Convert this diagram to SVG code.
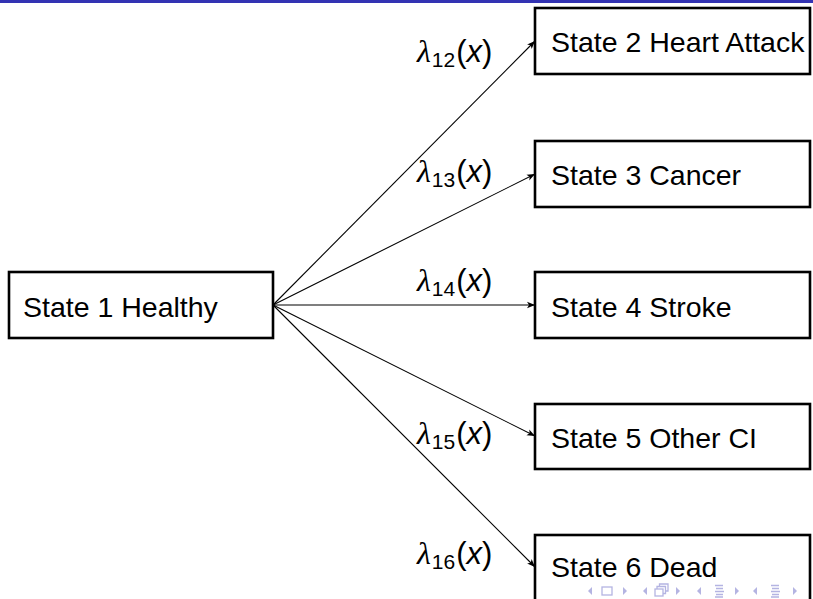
<svg xmlns="http://www.w3.org/2000/svg" width="813" height="599" viewBox="0 0 813 599">
  <defs>
    <style>
      .box { fill: #ffffff; stroke: #000000; stroke-width: 2.6; }
      .txt { font-family: "Liberation Sans", Arial, sans-serif; font-size: 28.5px; fill: #000000; }
      .lbl { font-family: "Liberation Sans", Arial, sans-serif; font-size: 31px; fill: #000000; }
      .lam { font-family: "Liberation Serif", "DejaVu Serif", serif; font-style: italic; font-size: 32px; }
      .sub { font-size: 21px; }
      .ix { font-style: italic; }
      .edge { fill: none; stroke: #000000; stroke-width: 1.1; marker-end: url(#arr); }
      .nav { fill: none; stroke: #b4b4e2; stroke-width: 1.3; }
      .navf { fill: #b4b4e2; stroke: none; }
    </style>
    <marker id="arr" viewBox="0 0 10 10" refX="10" refY="5" markerWidth="8" markerHeight="8" markerUnits="userSpaceOnUse" orient="auto">
      <path d="M0,1 L10,5 L0,9 L2.5,5 Z" fill="#000000"/>
    </marker>
  </defs>

  <rect x="0" y="0" width="813" height="3" fill="#3333b3"/>

  <g id="connectors">
    <line class="edge" x1="273" y1="305" x2="535" y2="41"/>
    <line class="edge" x1="273" y1="305" x2="535" y2="174"/>
    <line class="edge" x1="273" y1="305" x2="535" y2="305"/>
    <line class="edge" x1="273" y1="305" x2="535" y2="436"/>
    <line class="edge" x1="273" y1="305" x2="535" y2="567"/>
  </g>

  <g id="labels">
    <text class="lbl" x="417" y="62"><tspan class="lam">λ</tspan><tspan class="sub" dy="5" dx="1">12</tspan><tspan dy="-5" dx="1">(</tspan><tspan class="ix">x</tspan>)</text>
    <text class="lbl" x="417" y="182"><tspan class="lam">λ</tspan><tspan class="sub" dy="5" dx="1">13</tspan><tspan dy="-5" dx="1">(</tspan><tspan class="ix">x</tspan>)</text>
    <text class="lbl" x="417" y="291"><tspan class="lam">λ</tspan><tspan class="sub" dy="5" dx="1">14</tspan><tspan dy="-5" dx="1">(</tspan><tspan class="ix">x</tspan>)</text>
    <text class="lbl" x="417" y="444"><tspan class="lam">λ</tspan><tspan class="sub" dy="5" dx="1">15</tspan><tspan dy="-5" dx="1">(</tspan><tspan class="ix">x</tspan>)</text>
    <text class="lbl" x="417" y="564"><tspan class="lam">λ</tspan><tspan class="sub" dy="5" dx="1">16</tspan><tspan dy="-5" dx="1">(</tspan><tspan class="ix">x</tspan>)</text>
  </g>

  <g id="state1">
    <rect class="box" x="9" y="272" width="264" height="66"/>
    <text class="txt" x="23" y="317">State 1 Healthy</text>
  </g>
  <g id="state2">
    <rect class="box" x="535" y="8" width="275" height="66"/>
    <text class="txt" x="551" y="52">State 2 Heart Attack</text>
  </g>
  <g id="state3">
    <rect class="box" x="535" y="141" width="275" height="66"/>
    <text class="txt" x="551" y="185">State 3 Cancer</text>
  </g>
  <g id="state4">
    <rect class="box" x="535" y="272" width="275" height="66"/>
    <text class="txt" x="551" y="317">State 4 Stroke</text>
  </g>
  <g id="state5">
    <rect class="box" x="535" y="404" width="275" height="65"/>
    <text class="txt" x="551" y="448">State 5 Other CI</text>
  </g>
  <g id="state6">
    <rect class="box" x="535" y="535" width="275" height="66"/>
    <text class="txt" x="551" y="577">State 6 Dead</text>
  </g>

  <g id="navigation">
    <path class="navf" d="M592,587 L588,591 L592,595 Z"/>
    <rect class="nav" x="602" y="587" width="10" height="8"/>
    <path class="navf" d="M623,587 L627,591 L623,595 Z"/>
    <path class="navf" d="M647,587 L643,591 L647,595 Z"/>
    <rect class="nav" x="655" y="589" width="8" height="7"/>
    <path class="nav" d="M657,589 V586.5 H665.5 V593.5 H663 M659.5,586.5 V584 H668 V591 H665.5"/>
    <path class="navf" d="M676,587 L680,591 L676,595 Z"/>
    <path class="navf" d="M701,587 L697,591 L701,595 Z"/>
    <path class="nav" d="M715,585.5 H723 M716,588.5 H723 M715,591.5 H724 M716,594.5 H723 M715,597 H723"/>
    <path class="navf" d="M735,587 L739,591 L735,595 Z"/>
    <path class="navf" d="M757,587 L753,591 L757,595 Z"/>
    <path class="nav" d="M771,585.5 H779 M772,588.5 H779 M771,591.5 H780 M772,594.5 H779 M771,597 H779"/>
    <path class="navf" d="M793,587 L797,591 L793,595 Z"/>
  </g>
</svg>
